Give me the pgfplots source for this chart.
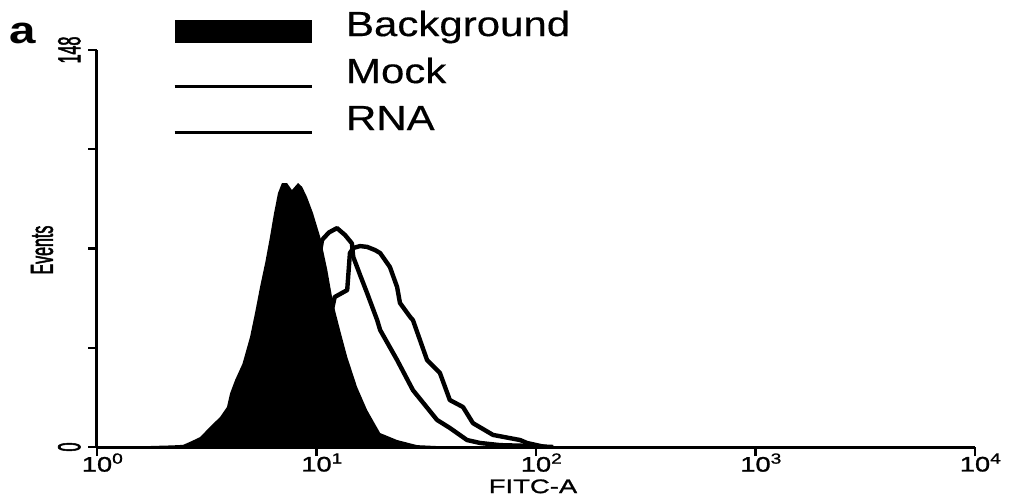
\documentclass[border=0pt]{standalone}
\usepackage{fontspec}
\setmainfont{Liberation Sans}
\newfontfamily\legfont[FakeStretch=1.2,FakeBold=0.4]{Liberation Sans}
\newfontfamily\tickfont[FakeStretch=1.3,FakeBold=1.2]{Liberation Sans}
\newfontfamily\labfont[FakeStretch=1.4,FakeBold=1.2]{Liberation Sans}
\newfontfamily\narrowfont[FakeStretch=0.5,FakeBold=1.5]{Liberation Sans}
\newfontfamily\panelfont[FakeStretch=1.25]{Liberation Sans}
\usepackage{pgfplots}
\pgfplotsset{compat=1.18}
\newcommand{\dec}[1]{\makebox[0pt]{\phantom{\textsuperscript{#1}}10\textsuperscript{#1}}}
\begin{document}
\begin{tikzpicture}
\path[use as bounding box] (-48.5pt,-26pt) rectangle (458pt,223.5pt);
\begin{axis}[
  at={(0,0)}, anchor=south west,
  scale only axis, width=439pt, height=198.5pt,
  xmode=log, xmin=1, xmax=10000, ymin=0, ymax=148,
  axis lines=left,
  axis line style={line width=1.5pt,-},
  xtick={1,10,100,1000,10000},
  xticklabels={\dec{0},\dec{1},\dec{2},\dec{3},\dec{4}},
  xminorticks=false,
  ytick={0,37,74,111,148},
  yticklabels={0,,,,148},
  tick align=outside,
  major tick length=4.5pt,
  tick style={line width=1.2pt,black},
  xticklabel style={font=\tickfont\fontsize{10.5}{12}\selectfont, inner sep=0pt, yshift=1.5pt},
  yticklabel style={font=\narrowfont\fontsize{16}{18}\selectfont, rotate=90, anchor=south, inner sep=0pt, yshift=3.5pt},
  xlabel={FITC-A},
  xlabel style={font=\labfont\fontsize{9.8}{12}\selectfont, at={(axis description cs:0.4966,0)}, anchor=north, yshift=-16pt, inner sep=0pt},
  ylabel={Events},
  ylabel style={font=\narrowfont\fontsize{16}{18}\selectfont, at={(axis description cs:0,0.496)}, anchor=center, yshift=27.5pt, inner sep=0pt},
  legend cell align=left,
  legend style={at={(0.0866,1.098)}, anchor=north west, draw=none, fill=none,
    inner sep=0pt, outer sep=0pt, row sep=7.5pt, column sep=16.5pt,
    font=\legfont\fontsize{17.5}{20}\selectfont,
    nodes={inner sep=0pt, text height=12.5pt, text depth=3.5pt}},
]
\addplot[draw=none, fill=black,
  legend image code/.code={\fill[black] (0pt,-8pt) rectangle (68.5pt,3.5pt);}]
coordinates {
(1.3,0) (1.8,0.4) (2.2,0.6) (2.47,0.8) (2.7,2.2) (2.95,3.7) (3.27,7.5) (3.64,11.2)
(3.91,14.9) (4.04,20) (4.26,25) (4.6,31) (4.98,41) (5.25,50) (5.53,59.6) (5.85,69)
(6.14,78.3) (6.4,87) (6.68,94.7) (6.96,98.4) (7.34,98.4) (7.73,95.8) (8.24,98.4)
(8.6,97) (9.05,93.2) (9.64,87.2) (10.4,78.3) (11.2,66) (11.9,53.7) (12.8,43.6)
(13.8,33.6) (15.3,22.4) (17.0,13.8) (19.5,5.2) (23.3,2.6) (28.7,0.7) (36.5,0.3)
(50,0.2) (70,0)
} \closedcycle;
\addlegendentry{Background}
\addplot[black, line width=2.2pt, line join=round,
  legend image code/.code={\draw[line width=1.5pt] (0pt,-6pt) -- (68.5pt,-6pt);}]
coordinates {
(2.5,0) (3.5,1) (5,5) (7,20) (9,45) (10,65) (10.6,77.2) (11.4,80) (12.4,81.6)
(13.5,79) (14.5,75.9) (14.7,70.9) (15.8,64.1) (17.0,57.4) (18.9,47.3) (19.5,43.6)
(23.3,32.4) (27.5,21.2) (35.4,10.1) (40.5,7.1) (48.5,2.6) (55.6,1.5) (68.6,0.7)
(94,0.4) (120,0)
};
\addlegendentry{Mock}
\addplot[black, line width=2.2pt, line join=round,
  legend image code/.code={\draw[line width=1.5pt] (0pt,-5.5pt) -- (68.5pt,-5.5pt);}]
coordinates {
(3,0) (5,2) (7,8) (9,20) (11,40) (12.1,55.9) (13.8,58.5) (14.2,72.3) (14.7,74.2)
(15.8,74.9) (17.0,74.6) (18.5,73.4) (19.5,72.3) (21.6,67.1) (23.3,59.6) (24.0,53.7)
(26.7,48.5) (27.5,47.3) (31.9,32.4) (36.5,27.6) (40.5,17.5) (46.5,14.9) (51.6,8.9)
(63.7,4.5) (84.6,2.6) (91,1.5) (110,0)
};
\addlegendentry{RNA}
\end{axis}
\node[font=\panelfont\bfseries\fontsize{19}{22}\selectfont, inner sep=0pt] at (-37pt,207pt) {a};
\end{tikzpicture}
\end{document}
